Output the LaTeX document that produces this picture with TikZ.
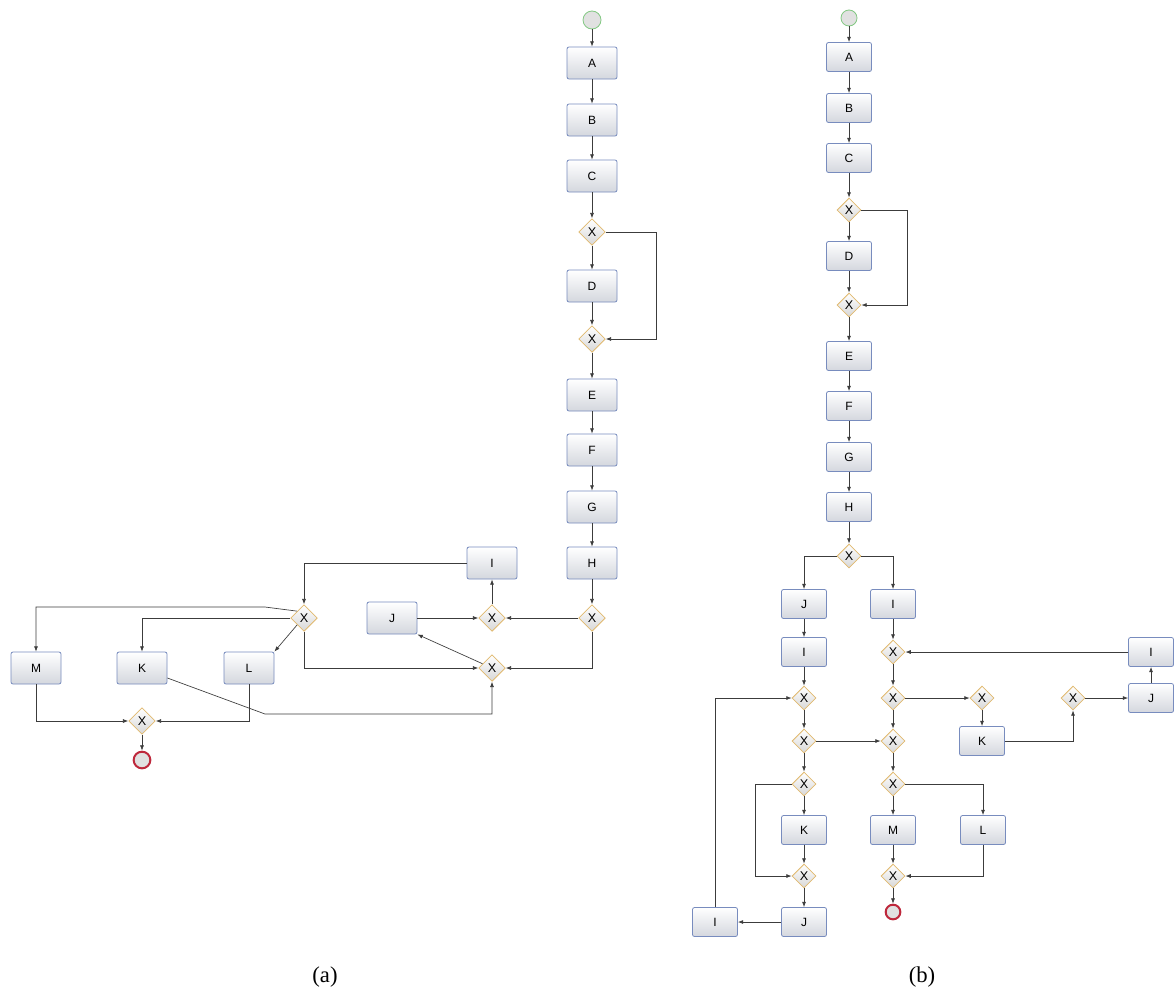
\documentclass[tikz,border=0pt]{standalone}
\usepackage{fontspec}
\usetikzlibrary{shapes.geometric,arrows.meta,calc}
\newfontfamily\labfamily{Liberation Sans}
\newfontfamily\capfamily{Liberation Serif}
\definecolor{boxblue}{RGB}{120,140,190}
\definecolor{boxgray}{RGB}{212,215,222}
\definecolor{gwtan}{RGB}{225,185,110}
\definecolor{gwgray}{RGB}{215,215,215}
\definecolor{startgreen}{RGB}{130,200,130}
\definecolor{endred}{RGB}{190,40,60}
\definecolor{evgray}{RGB}{225,225,225}
\definecolor{linegray}{RGB}{60,60,60}
\tikzset{
 box/.style={rectangle, rounded corners=1.5pt, draw=boxblue, top color=white, bottom color=boxgray, line width=0.6pt, font=\labfamily\fontsize{9}{10}\selectfont, inner sep=0pt},
 boxa/.style={box, minimum width=37.5pt, minimum height=24pt},
 boxb/.style={box, minimum width=33.75pt, minimum height=21.75pt},
 gw/.style={diamond, draw=gwtan, top color=white, bottom color=gwgray, inner sep=0pt, line width=0.6pt, font=\labfamily\fontsize{9.5}{10}\selectfont},
 gwa/.style={gw, minimum size=20pt},
 gwb/.style={gw, minimum size=18pt},
 startev/.style={circle, draw=startgreen, fill=evgray, inner sep=0pt, line width=0.6pt},
 endev/.style={circle, draw=endred, fill=evgray, inner sep=0pt, line width=1.5pt},
 arr/.style={draw=linegray, line width=0.5pt, -{Latex[length=4pt,width=3pt]}},
 capt/.style={font=\capfamily\fontsize{17}{19}\selectfont}
}
\begin{document}
\begin{tikzpicture}[x=0.75pt,y=-0.75pt]
\useasboundingbox (0,0) rectangle (1176,992);
\fill[white] (0,0) rectangle (1176,992);
% ---------------- (a) ----------------
\node[startev, minimum size=13.5pt] (aS) at (592,20) {};
\node[boxa] (aA) at (592,63) {A};
\node[boxa] (aB) at (592,120) {B};
\node[boxa] (aC) at (592,176) {C};
\node[gwa] (ag1) at (592,232) {X};
\node[boxa] (aD) at (592,286) {D};
\node[gwa] (ag2) at (592,339) {X};
\node[boxa] (aE) at (592,395) {E};
\node[boxa] (aF) at (592,450) {F};
\node[boxa] (aG) at (592,507) {G};
\node[boxa] (aH) at (592,563) {H};
\node[gwa] (agH) at (592,618) {X};
\node[gwa] (agM) at (492,618) {X};
\node[boxa] (aI) at (492,563) {I};
\node[boxa] (aJ) at (392,618) {J};
\node[gwa] (agL) at (492,668) {X};
\node[gwa] (agF) at (304,618) {X};
\node[boxa] (aM) at (36,668) {M};
\node[boxa] (aK) at (142,668) {K};
\node[boxa] (aL) at (249,668) {L};
\node[gwa] (agB) at (142,721) {X};
\node[endev, minimum size=12.5pt] (aEnd) at (142,760) {};
\coordinate (aloop) at (656,232);
\coordinate (aMk) at (265,607);
\coordinate (aKk) at (265,714);
\draw[arr] (aS) -- (aA);
\draw[arr] (aA) -- (aB);
\draw[arr] (aB) -- (aC);
\draw[arr] (aC) -- (ag1);
\draw[arr] (ag1) -- (aD);
\draw[arr] (aD) -- (ag2);
\draw[arr] (ag1.east) -- (aloop) |- (ag2.east);
\draw[arr] (ag2) -- (aE);
\draw[arr] (aE) -- (aF);
\draw[arr] (aF) -- (aG);
\draw[arr] (aG) -- (aH);
\draw[arr] (aH) -- (agH);
\draw[arr] (agH) -- (agM);
\draw[arr] (agM) -- (aI);
\draw[arr] (aJ) -- (agM);
\draw[arr] (agH.south) |- (agL.east);
\draw[arr] (agL) -- (aJ.south east);
\draw[arr] (aI.west) -| (agF.north);
\draw[arr] (agF.south) |- (agL.west);
\draw[arr] (agF.north west) -- (aMk) -| (aM.north);
\draw[arr] (agF.west) -| (aK.north);
\draw[arr] (agF.south west) -- (aL.north east);
\draw[arr] (aM.south) |- (agB.west);
\draw[arr] (aL.south) |- (agB.east);
\draw[arr] (agB) -- (aEnd);
\draw[arr] ($(aK.east)+(0,10)$) -- (aKk) -| (agL.south);
% ---------------- (b) ----------------
\node[startev, minimum size=12pt] (bS) at (849,18) {};
\node[boxb] (bA) at (849,57) {A};
\node[boxb] (bB) at (849,108) {B};
\node[boxb] (bC) at (849,158) {C};
\node[gwb] (bg1) at (849,210) {X};
\node[boxb] (bD) at (849,256) {D};
\node[gwb] (bg2) at (849,305) {X};
\node[boxb] (bE) at (849,356) {E};
\node[boxb] (bF) at (849,406) {F};
\node[boxb] (bG) at (849,457) {G};
\node[boxb] (bH) at (849,507) {H};
\node[gwb] (bg3) at (849,556) {X};
\node[boxb] (bJ1) at (804,604) {J};
\node[boxb] (bI1) at (893,604) {I};
\node[boxb] (bI2) at (804,652) {I};
\node[gwb] (bgR1) at (893,652) {X};
\node[gwb] (bgL1) at (804,698) {X};
\node[gwb] (bgL2) at (804,741) {X};
\node[gwb] (bgL3) at (804,784) {X};
\node[boxb] (bK) at (804,830) {K};
\node[gwb] (bgL4) at (804,876) {X};
\node[boxb] (bJ2) at (804,922) {J};
\node[boxb] (bI3) at (715,922) {I};
\node[gwb] (bgR2) at (893,698) {X};
\node[gwb] (bgR3) at (893,741) {X};
\node[gwb] (bgR4) at (893,784) {X};
\node[boxb] (bM) at (893,830) {M};
\node[boxb] (bL) at (983,830) {L};
\node[gwb] (bgR5) at (893,876) {X};
\node[endev, minimum size=11pt] (bEnd) at (893,912) {};
\node[gwb] (bgX1) at (982,698) {X};
\node[boxb] (bK2) at (982,741) {K};
\node[gwb] (bgX2) at (1073,698) {X};
\node[boxb] (bJ3) at (1151,698) {J};
\node[boxb] (bI4) at (1151,652) {I};
\coordinate (bloop) at (907,210);
\coordinate (bsk) at (755,784);
\draw[arr] (bS) -- (bA);
\draw[arr] (bA) -- (bB);
\draw[arr] (bB) -- (bC);
\draw[arr] (bC) -- (bg1);
\draw[arr] (bg1) -- (bD);
\draw[arr] (bD) -- (bg2);
\draw[arr] (bg1.east) -- (bloop) |- (bg2.east);
\draw[arr] (bg2) -- (bE);
\draw[arr] (bE) -- (bF);
\draw[arr] (bF) -- (bG);
\draw[arr] (bG) -- (bH);
\draw[arr] (bH) -- (bg3);
\draw[arr] (bg3.west) -| (bJ1.north);
\draw[arr] (bg3.east) -| (bI1.north);
\draw[arr] (bJ1) -- (bI2);
\draw[arr] (bI2) -- (bgL1);
\draw[arr] (bI1) -- (bgR1);
\draw[arr] (bI4) -- (bgR1);
\draw[arr] (bgR1) -- (bgR2);
\draw[arr] (bgR2) -- (bgX1);
\draw[arr] (bgX1) -- (bK2);
\draw[arr] (bK2.east) -| (bgX2.south);
\draw[arr] (bgX2) -- (bJ3);
\draw[arr] (bJ3) -- (bI4);
\draw[arr] (bgR2) -- (bgR3);
\draw[arr] (bgR3) -- (bgR4);
\draw[arr] (bgL1) -- (bgL2);
\draw[arr] (bgL2) -- (bgR3);
\draw[arr] (bgL2) -- (bgL3);
\draw[arr] (bgL3) -- (bK);
\draw[arr] (bK) -- (bgL4);
\draw[arr] (bgL3.west) -- (bsk) |- (bgL4.west);
\draw[arr] (bgL4) -- (bJ2);
\draw[arr] (bJ2) -- (bI3);
\draw[arr] (bI3.north) |- (bgL1.west);
\draw[arr] (bgR4) -- (bM);
\draw[arr] (bgR4.east) -| (bL.north);
\draw[arr] (bM) -- (bgR5);
\draw[arr] (bL.south) |- (bgR5.east);
\draw[arr] (bgR5) -- (bEnd);
% captions
\node[capt] (capa) at (325,977) {(a)};
\node[capt] (capb) at (922,977) {(b)};
\end{tikzpicture}
\end{document}
